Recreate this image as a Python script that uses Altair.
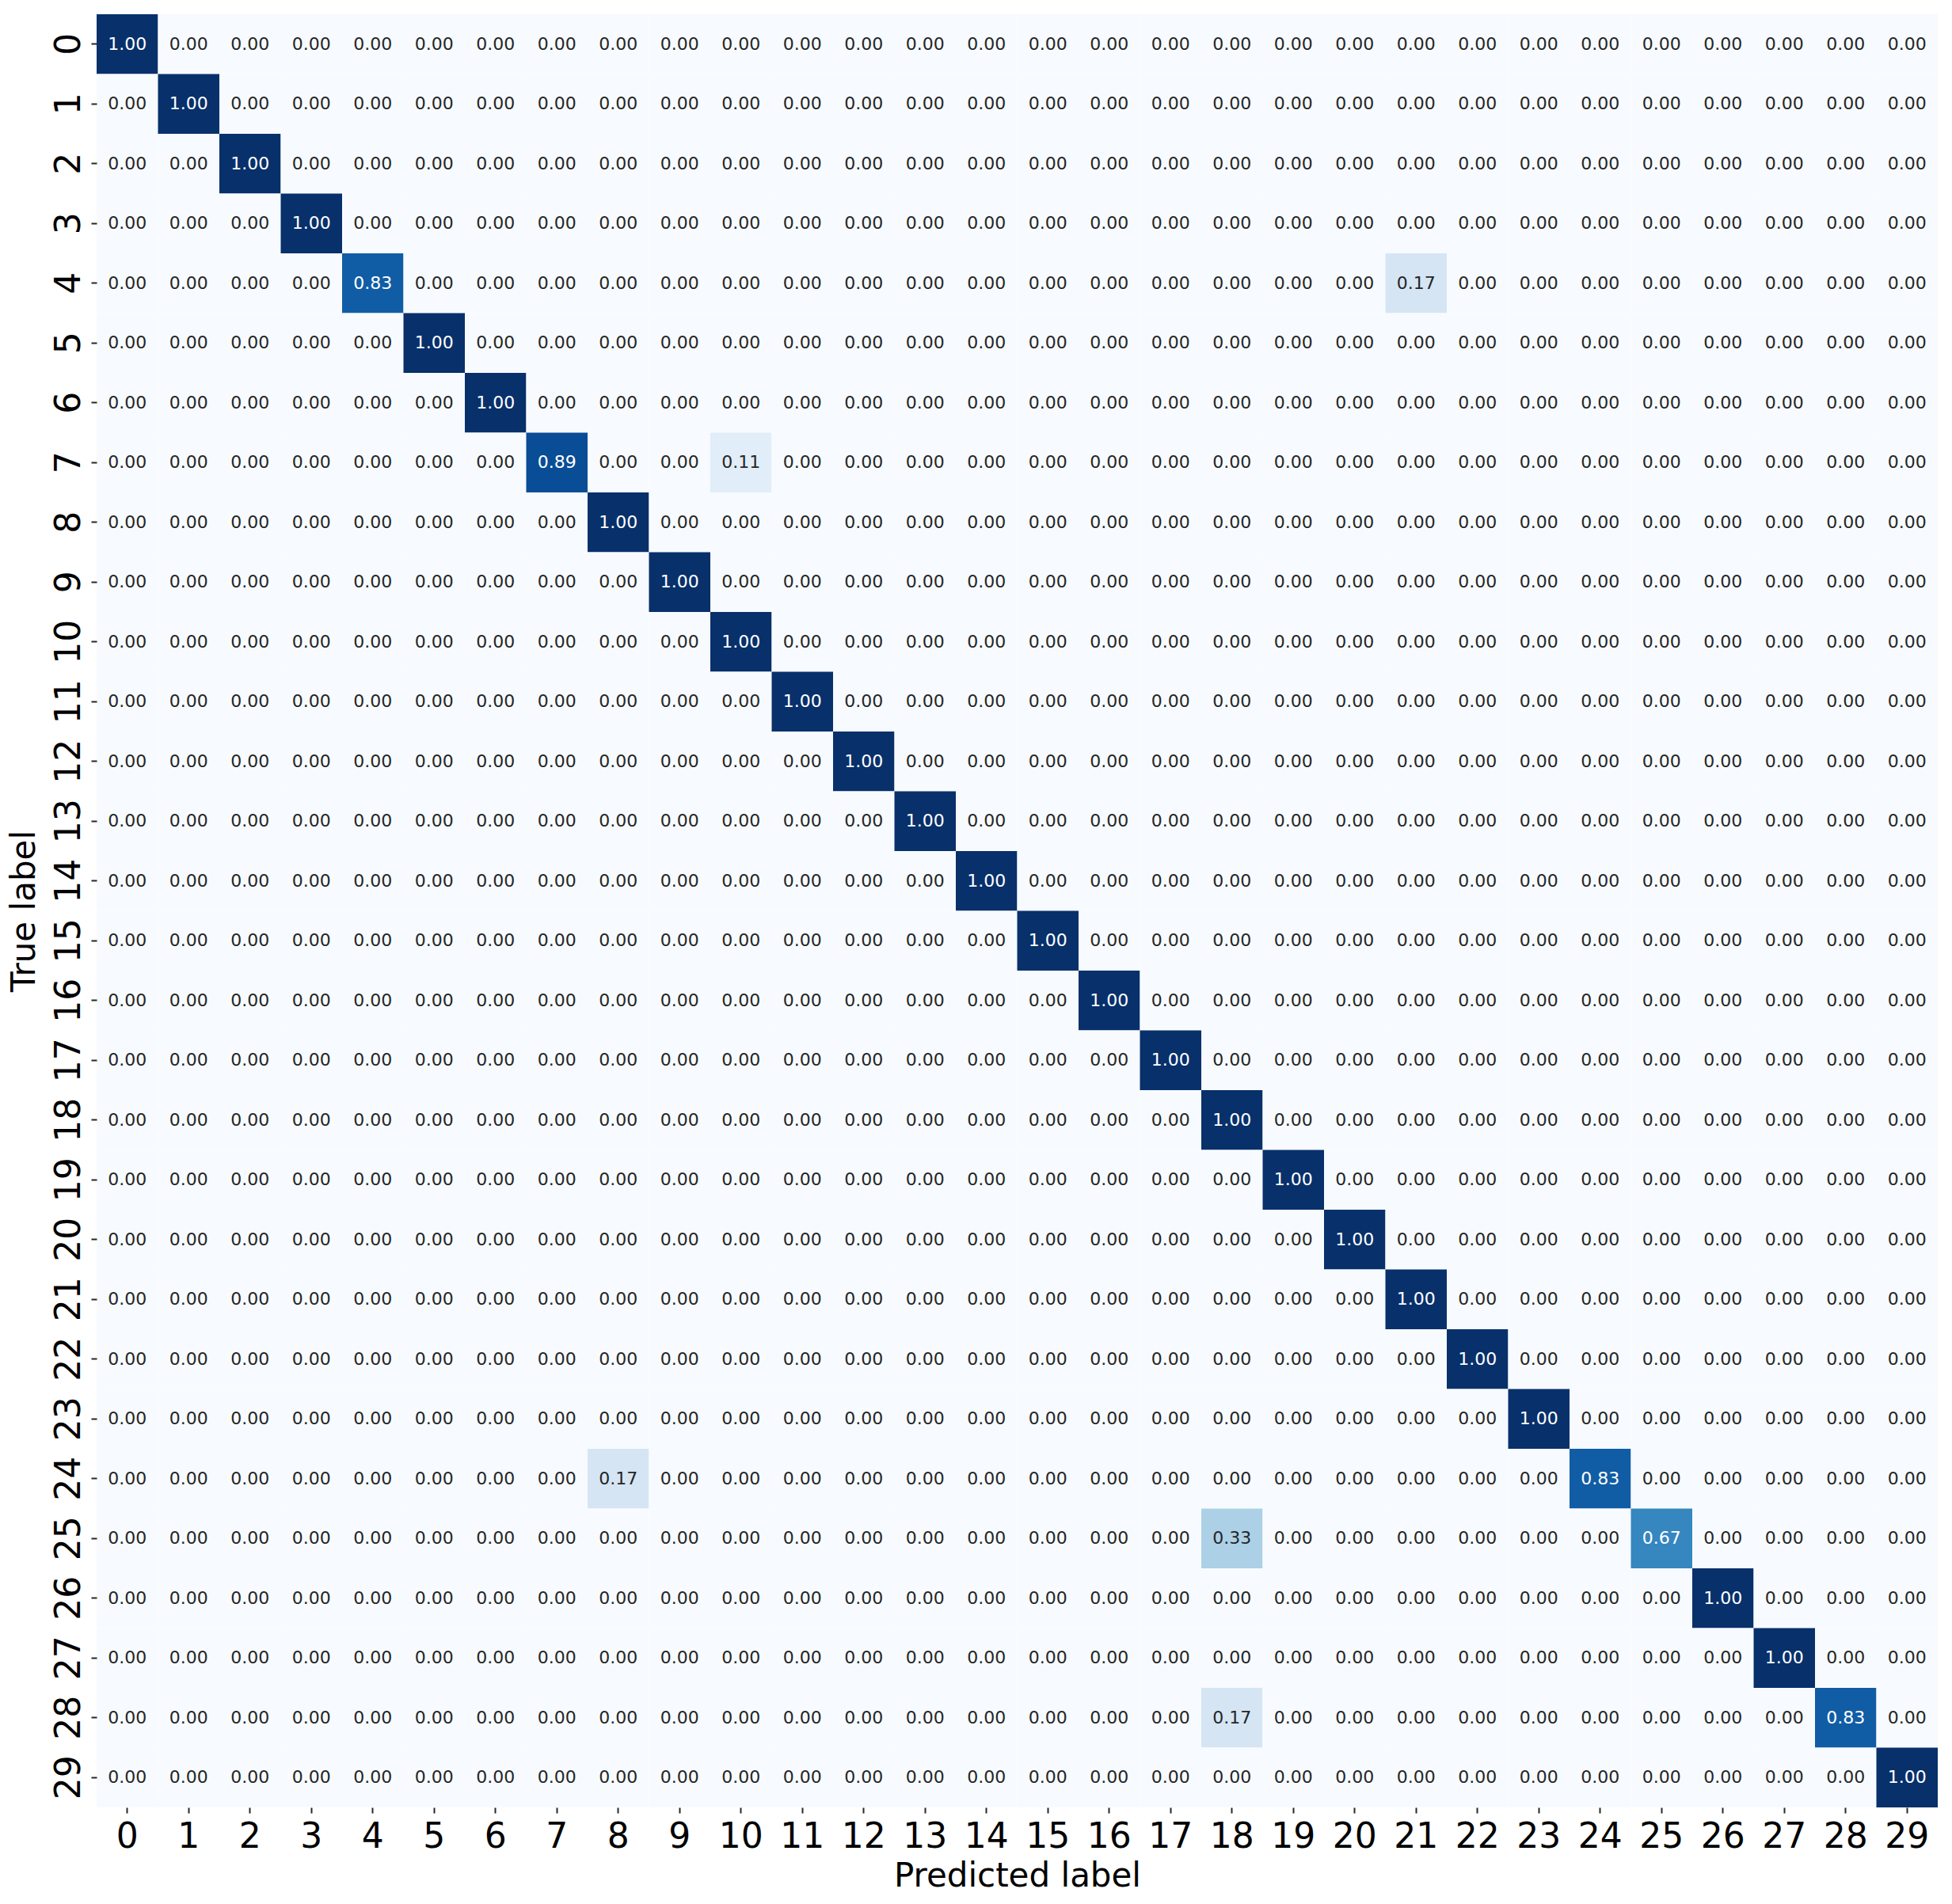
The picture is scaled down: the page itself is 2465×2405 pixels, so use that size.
import altair as alt
import pandas as pd

labels = list(range(30))
# diagonal (correct) rates per true label
diag_values = [1.00, 1.00, 1.00, 1.00, 0.83, 1.00, 1.00, 0.89, 1.00, 1.00,
               1.00, 1.00, 1.00, 1.00, 1.00, 1.00, 1.00, 1.00, 1.00, 1.00,
               1.00, 1.00, 1.00, 1.00, 0.83, 0.67, 1.00, 1.00, 0.83, 1.00]
# off-diagonal misclassifications
off_true = [4, 7, 24, 25, 28]
off_pred = [21, 10, 8, 18, 18]
off_values = [0.17, 0.11, 0.17, 0.33, 0.17]

cells = {}
for t in labels:
    for p in labels:
        cells[(t, p)] = 0.0
for t in labels:
    cells[(t, t)] = diag_values[t]
for t, p, v in zip(off_true, off_pred, off_values):
    cells[(t, p)] = v

df = pd.DataFrame([{"true": t, "pred": p, "value": v, "text": f"{v:.2f}"}
                   for (t, p), v in cells.items()])

blues_domain = [0, 0.125, 0.25, 0.375, 0.5, 0.625, 0.75, 0.875, 1.0]
blues_range = ['#f7fbff', '#deebf7', '#c6dbef', '#9ecae1', '#6baed6',
               '#4292c6', '#2171b5', '#08519c', '#08306b']

W, H = 2325, 2265

xenc = alt.X("pred:O", sort=labels, title="Predicted label",
             scale=alt.Scale(paddingInner=0, paddingOuter=0),
             axis=alt.Axis(labelAngle=0, labelFontSize=44, labelFont="DejaVu Sans",
                           labelColor="black", tickSize=7, tickWidth=2, tickColor="#262626",
                           labelPadding=8, domain=False, titleFontSize=42,
                           titleFont="DejaVu Sans", titleFontWeight="normal",
                           titleColor="black", titleBaseline="alphabetic",
                           titleY=99, titleX=W / 2, titleAlign="center"))
yenc = alt.Y("true:O", sort=labels, title="True label",
             scale=alt.Scale(paddingInner=0, paddingOuter=0),
             axis=alt.Axis(labelAngle=270, labelFontSize=44, labelFont="DejaVu Sans",
                           labelColor="black", tickSize=7, tickWidth=2, tickColor="#262626",
                           labelPadding=15, labelAlign="center", labelBaseline="alphabetic",
                           domain=False, titleFontSize=42, titleFont="DejaVu Sans",
                           titleFontWeight="normal", titleColor="black",
                           titleAngle=270, titleBaseline="alphabetic", titleAlign="center",
                           titleX=-79, titleY=H / 2))

base = alt.Chart(df).encode(x=xenc, y=yenc)

rects = base.mark_rect().encode(
    color=alt.Color("value:Q", legend=None,
                    scale=alt.Scale(domain=blues_domain, range=blues_range,
                                    interpolate="rgb"))
)

texts = base.mark_text(font="DejaVu Sans", fontSize=22).encode(
    text="text:N",
    color=alt.condition(alt.datum.value > 0.5, alt.value("white"), alt.value("#262626"))
)

chart = (rects + texts).properties(
    width=W, height=H,
    autosize=alt.AutoSizeParams(type="none"),
    padding={"left": 114, "top": 10, "right": 10, "bottom": 110},
).configure_view(stroke=None).configure_axis(grid=False)

chart.save("out.html", embed_options={"renderer": "svg", "actions": False})
